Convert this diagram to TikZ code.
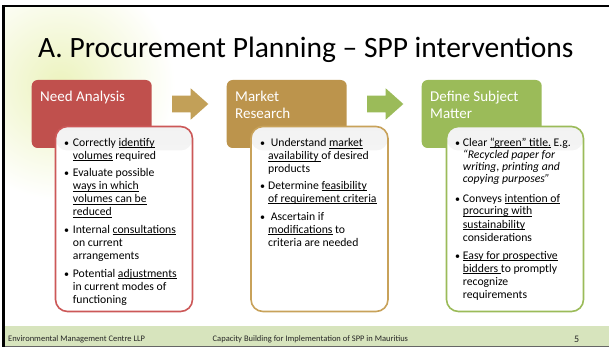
\documentclass[tikz,border=0pt]{standalone}
\usepackage{fontspec}
\setmainfont{Carlito}
\definecolor{nred}{HTML}{C0504D}
\definecolor{redb}{RGB}{204,88,88}
\definecolor{ngold}{RGB}{188,148,76}
\definecolor{agold}{RGB}{194,160,88}
\definecolor{goldb}{RGB}{200,162,90}
\definecolor{ngreen}{HTML}{9BBB59}
\definecolor{footg}{HTML}{D7E4BD}
\definecolor{glow}{RGB}{236,243,190}
\newcommand\myul[1]{\setbox0\hbox{#1}\rlap{\rule[-1.6pt]{\wd0}{0.75pt}}\box0\relax}
\newcommand\mylines[1]{\begin{tabular}[t]{@{}l@{}}#1\end{tabular}}
\begin{document}
\begin{tikzpicture}[x=1pt,y=-1pt,
  hdr/.style={rounded corners=6pt, minimum width=120pt, minimum height=68pt, inner sep=0pt},
  hdrtxt/.style={anchor=base west, inner sep=0pt, text=white, font=\fontsize{15}{16.7}\selectfont},
  bodybox/.style={draw=#1, line width=1.6pt, rounded corners=12pt, fill=white, minimum width=137pt, minimum height=185pt, inner sep=0pt,
    path picture={\fill[top color=black!5, bottom color=white] (path picture bounding box.north west) rectangle ([yshift=-24pt]path picture bounding box.north east);}},
  btxt/.style={anchor=base west, inner sep=0pt, font=\fontsize{11.7}{13}\selectfont},
  bul/.style={anchor=base west, inner sep=0pt, font=\fontsize{10}{13}\selectfont},
  foot/.style={anchor=base west, inner sep=0pt, text=black!85, font=\fontsize{8.5}{10}\selectfont}]
\useasboundingbox (0,0) rectangle (609,347);
\fill[white] (0,0) rectangle (609,347);
\begin{scope}
\clip (4,7) rectangle (609,326);
\shade[inner color=glow, outer color=white] (60,85) circle (115);
\end{scope}
% footer band
\fill[footg] (4,326) rectangle (609,345.5);
\draw[black!60, line width=1.5pt] (4,346.3) -- (609,346.3);
% frame
\draw[line width=2.3pt] (2,6.2) -- (609,6.2);
\draw[line width=2.3pt] (3.6,5) -- (3.6,347);
% title
\node[anchor=base west, inner sep=0pt, font=\fontsize{29.5}{35}\selectfont] (title) at (38,58) {A. Procurement Planning – SPP interventions};
% headers
\node[hdr, fill=nred] (h1) at (91.7,114) {};
\node[hdr, fill=ngold] (h2) at (286.7,114) {};
\node[hdr, fill=ngreen] (h3) at (481.7,114) {};
\node[hdrtxt] (h1t) at (40,102) {Need Analysis};
\node[hdrtxt] (h2t) at (235,102) {\mylines{Market\\Research}};
\node[hdrtxt] (h3t) at (430,102) {\mylines{Define Subject\\Matter}};
% arrows
\fill[agold] (172,95.7) -- (190.7,95.7) -- (190.7,88.3) -- (208.3,104) -- (190.7,119.7) -- (190.7,112.3) -- (172,112.3) -- cycle;
\fill[ngreen] (367,95.7) -- (385.7,95.7) -- (385.7,88.3) -- (403.3,104) -- (385.7,119.7) -- (385.7,112.3) -- (367,112.3) -- cycle;
% bodies
\node[bodybox=redb] (b1) at (124,219) {};
\node[bodybox=goldb] (b2) at (319.5,219) {};
\node[bodybox=ngreen] (b3) at (515,219) {};
% body 1
\node[bul] (b1u1) at (64,146.5) {•};
\node[btxt] (b1t1) at (72.7,146.5) {\mylines{Correctly \myul{identify}\\\myul{volumes} required}};
\node[bul] (b1u2) at (64,177) {•};
\node[btxt] (b1t2) at (72.7,177) {\mylines{Evaluate possible\\\myul{ways in which}\\\myul{volumes can be}\\\myul{reduced}}};
\node[bul] (b1u3) at (64,233.5) {•};
\node[btxt] (b1t3) at (72.7,233.5) {\mylines{Internal \myul{consultations}\\on current\\arrangements}};
\node[bul] (b1u4) at (64,277) {•};
\node[btxt] (b1t4) at (72.7,277) {\mylines{Potential \myul{adjustments}\\in current modes of\\functioning}};
% body 2
\node[bul] (b2u1) at (260,147) {•};
\node[btxt] (b2t1) at (268,147) {\mylines{\ Understand \myul{market}\\\myul{availability }of desired\\products}};
\node[bul] (b2u2) at (260,189.5) {•};
\node[btxt] (b2t2) at (268,189.5) {\mylines{Determine \myul{feasibility}\\\myul{of requirement criteria}}};
\node[bul] (b2u3) at (260,220) {•};
\node[btxt] (b2t3) at (268,220) {\mylines{\ Ascertain if\\\myul{modifications} to\\criteria are needed}};
% body 3
\node[bul] (b3u1) at (455,146.5) {•};
\node[btxt, font=\fontsize{11.7}{12}\selectfont] (b3t1) at (462.7,146.5) {\mylines{Clear \myul{“green” title.} E.g.\\\textit{“Recycled paper for}\\\textit{writing, printing and}\\\textit{copying purposes”}}};
\node[bul] (b3u2) at (455,202) {•};
\node[btxt] (b3t2) at (462.7,202) {\mylines{Conveys \myul{intention of}\\\myul{procuring with}\\\myul{sustainability}\\considerations}};
\node[bul] (b3u3) at (455,259) {•};
\node[btxt] (b3t3) at (462.7,259) {\mylines{\myul{Easy for prospective}\\\myul{bidders }to promptly\\recognize\\requirements}};
% footer
\node[foot] (f1) at (8,341.5) {Environmental Management Centre LLP};
\node[foot] (f2) at (212.5,341.5) {Capacity Building for Implementation of SPP in Mauritius};
\node[foot, font=\fontsize{10}{12}\selectfont] (f3) at (574,342) {5};
\end{tikzpicture}
\end{document}
